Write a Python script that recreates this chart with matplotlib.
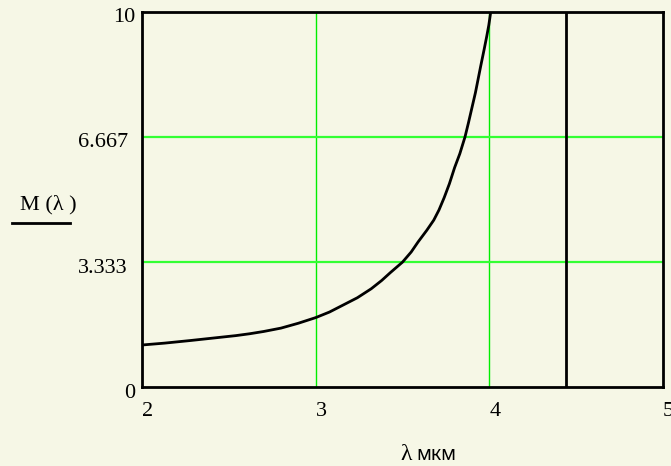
import matplotlib.pyplot as plt
import matplotlib.transforms as mtransforms
from matplotlib.lines import Line2D

# values
lam = [2.0, 2.13, 2.28, 2.40, 2.54, 2.62, 2.70, 2.80, 2.90, 3.00,
       3.08, 3.16, 3.24, 3.32, 3.38, 3.43, 3.50, 3.55, 3.59, 3.64,
       3.68, 3.71, 3.74, 3.77, 3.80, 3.83, 3.86, 3.88, 3.90, 3.92,
       3.935, 3.95, 3.97, 3.985, 3.997, 4.008]
M = [1.12, 1.17, 1.24, 1.30, 1.37, 1.42, 1.48, 1.57, 1.70, 1.85,
     2.00, 2.19, 2.38, 2.62, 2.84, 3.05, 3.33, 3.60, 3.87, 4.18,
     4.45, 4.72, 5.05, 5.42, 5.85, 6.22, 6.67, 7.05, 7.45, 7.85,
     8.20, 8.55, 9.00, 9.35, 9.65, 10.0]
marker_lam = 4.44

x_ticks = [2, 3, 4, 5]
x_labels = ['2', '3', '4', '5']
y_ticks = [0, 3.333, 6.667, 10]
y_labels = ['0', '3.333', '6.667', '10']

bg = '#f6f7e6'
green = '#33ff33'

fig = plt.figure(figsize=(6.71, 4.66), dpi=100, facecolor=bg)
ax = fig.add_axes([142 / 671, 1 - 387 / 466, 521 / 671, 375 / 466])
ax.set_facecolor(bg)

ax.set_xlim(2, 5)
ax.set_ylim(0, 10)

for v in x_ticks[1:-1]:
    ax.axvline(v, color='#00ee00', lw=1.0, zorder=1)
for v in y_ticks[1:-1]:
    ax.axhline(v, color=green, lw=1.6, zorder=1)

ax.plot(lam, M, color='black', lw=2.0, zorder=3, clip_on=True)
ax.axvline(marker_lam, color='black', lw=2.0, zorder=3)

for s in ax.spines.values():
    s.set_linewidth(2.0)
    s.set_color('black')

serif = 'Liberation Serif'
ax.set_xticks(x_ticks)
ax.set_xticklabels(x_labels, fontfamily=serif, fontsize=16)
ax.set_yticks(y_ticks)
ax.set_yticklabels(y_labels, fontfamily=serif, fontsize=16)
ax.tick_params(axis='both', length=0)
ax.tick_params(axis='x', pad=11)
ax.tick_params(axis='y', pad=5)

for lbl in ax.get_xticklabels():
    lbl.set_ha('left')
for lbl in ax.get_yticklabels():
    dx = -0.07 if '.' in lbl.get_text() else 0.0
    shift = mtransforms.ScaledTranslation(dx, -0.06, fig.dpi_scale_trans)
    lbl.set_va('center')
    lbl.set_transform(lbl.get_transform() + shift)

# y axis label with the underline, as Mathcad draws it
fig.text(48 / 671, 1 - 205 / 466, 'M (λ )', fontfamily=serif, fontsize=16,
         ha='center', va='center')
fig.add_artist(Line2D([12 / 671, 70 / 671], [1 - 223 / 466, 1 - 223 / 466],
                      color='black', lw=2.0, transform=fig.transFigure))

# x axis label
fig.text(400 / 671, 1 - 455 / 466, 'λ', fontfamily=serif, fontsize=17,
         ha='left', va='center')
fig.text(416 / 671, 1 - 455 / 466, 'мкм', fontfamily='Noto Sans', fontsize=14,
         ha='left', va='center')

fig.savefig('out.png', dpi=100, facecolor=bg)
